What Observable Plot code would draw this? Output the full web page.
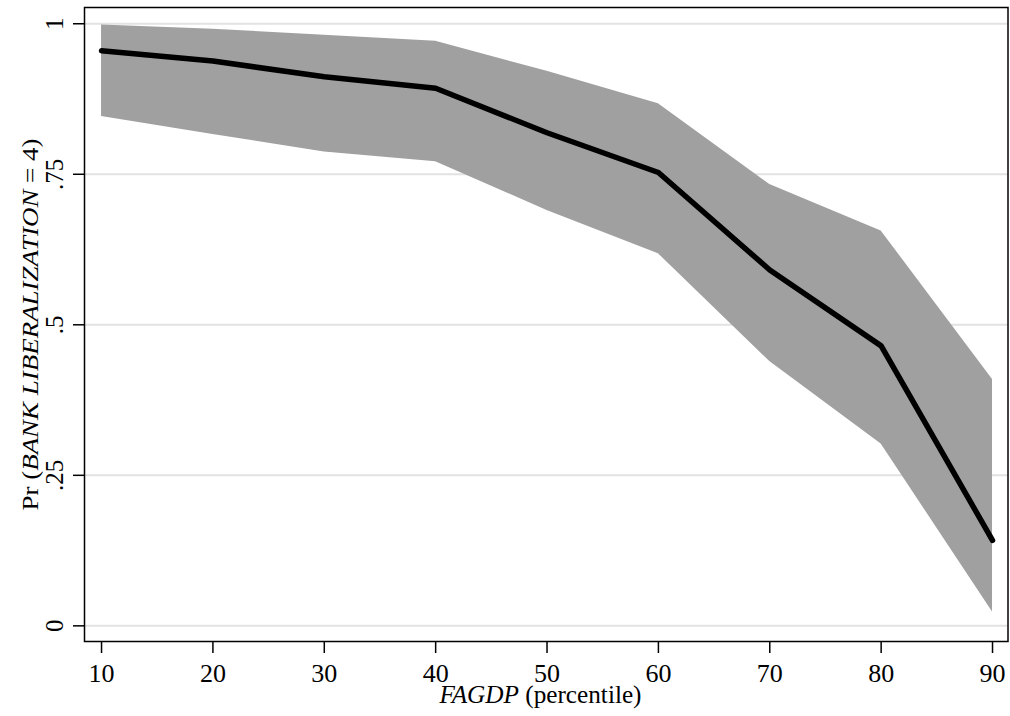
<!DOCTYPE html>
<html><head><meta charset="utf-8">
<script src="https://cdn.jsdelivr.net/npm/d3@7"></script>
<script src="https://cdn.jsdelivr.net/npm/@observablehq/plot@0.6"></script>
<style>body{margin:0;background:#fff} svg{display:block}</style>
</head><body><div id="chart"></div>
<script>
const percentiles = [10, 20, 30, 40, 50, 60, 70, 80, 90];
const prob  = [0.955, 0.938, 0.912, 0.893, 0.819, 0.753, 0.591, 0.465, 0.142];
const upper = [0.998, 0.991, 0.981, 0.971, 0.921, 0.867, 0.733, 0.656, 0.409];
const lower = [0.846, 0.816, 0.787, 0.771, 0.690, 0.618, 0.439, 0.302, 0.023];
const yTicks = [0, 0.25, 0.5, 0.75, 1];
const yTickLabels = ["0", ".25", ".5", ".75", "1"];
const xTicks = [10, 20, 30, 40, 50, 60, 70, 80, 90];
const xTitle = "FAGDP (percentile)";
const yTitle = "Pr (BANK LIBERALIZATION = 4)";

const data = percentiles.map((p, i) => ({p, prob: prob[i], lo: lower[i], hi: upper[i]}));

const chart = Plot.plot({
  width: 1010,
  height: 716,
  marginLeft: 84,
  marginRight: 2.5,
  marginTop: 7,
  marginBottom: 75,
  style: {fontFamily: "'Liberation Serif', 'Times New Roman', serif", fontSize: "24px", background: "#fff", color: "black"},
  x: {domain: [8.47, 91.39]},
  y: {domain: [-0.026, 1.027]},
  marks: [
    Plot.gridY(yTicks, {stroke: "#e2e2e2", strokeOpacity: 1, strokeWidth: 2}),
    Plot.areaY(data, {x: "p", y1: "lo", y2: "hi", fill: "#a0a0a0"}),
    Plot.line(data, {x: "p", y: "prob", stroke: "black", strokeWidth: 5.5, strokeLinecap: "round", strokeLinejoin: "round"}),
    Plot.axisY({ticks: yTicks, tickFormat: (d) => yTickLabels[yTicks.indexOf(d)], tickSize: 11, tickPadding: 11, tickRotate: -90, strokeWidth: 1.5, label: null, fontSize: 25}),
    Plot.axisX({ticks: xTicks, tickSize: 12, tickPadding: 10.5, strokeWidth: 1.5, label: null, fontSize: 26}),
    Plot.text([xTitle], {frameAnchor: "bottom", dy: 61, dx: -5.75, lineAnchor: "bottom", fontSize: 26}),
    Plot.text([yTitle], {frameAnchor: "left", rotate: -90, dx: -47, lineAnchor: "bottom", textAnchor: "middle", fontSize: 24}),
    Plot.frame({stroke: "black", strokeWidth: 1.5})
  ]
});

// rich text: italic variable names, stretched to the reference's text lengths
d3.select(chart).selectAll("text").each(function() {
  const t = this.textContent;
  if (t === xTitle) {
    this.textContent = "";
    const s = d3.select(this);
    s.append("tspan").attr("font-style", "italic").text("FAGDP");
    s.append("tspan").text(" (percentile)");
    s.attr("textLength", 202).attr("lengthAdjust", "spacingAndGlyphs");
  } else if (t === yTitle) {
    this.textContent = "";
    const s = d3.select(this);
    s.append("tspan").text("Pr (");
    s.append("tspan").attr("font-style", "italic").text("BANK LIBERALIZATION");
    s.append("tspan").text(" = 4)");
    s.attr("textLength", 372).attr("lengthAdjust", "spacingAndGlyphs");
  }
});

document.getElementById("chart").appendChild(chart);
</script>
</body></html>
